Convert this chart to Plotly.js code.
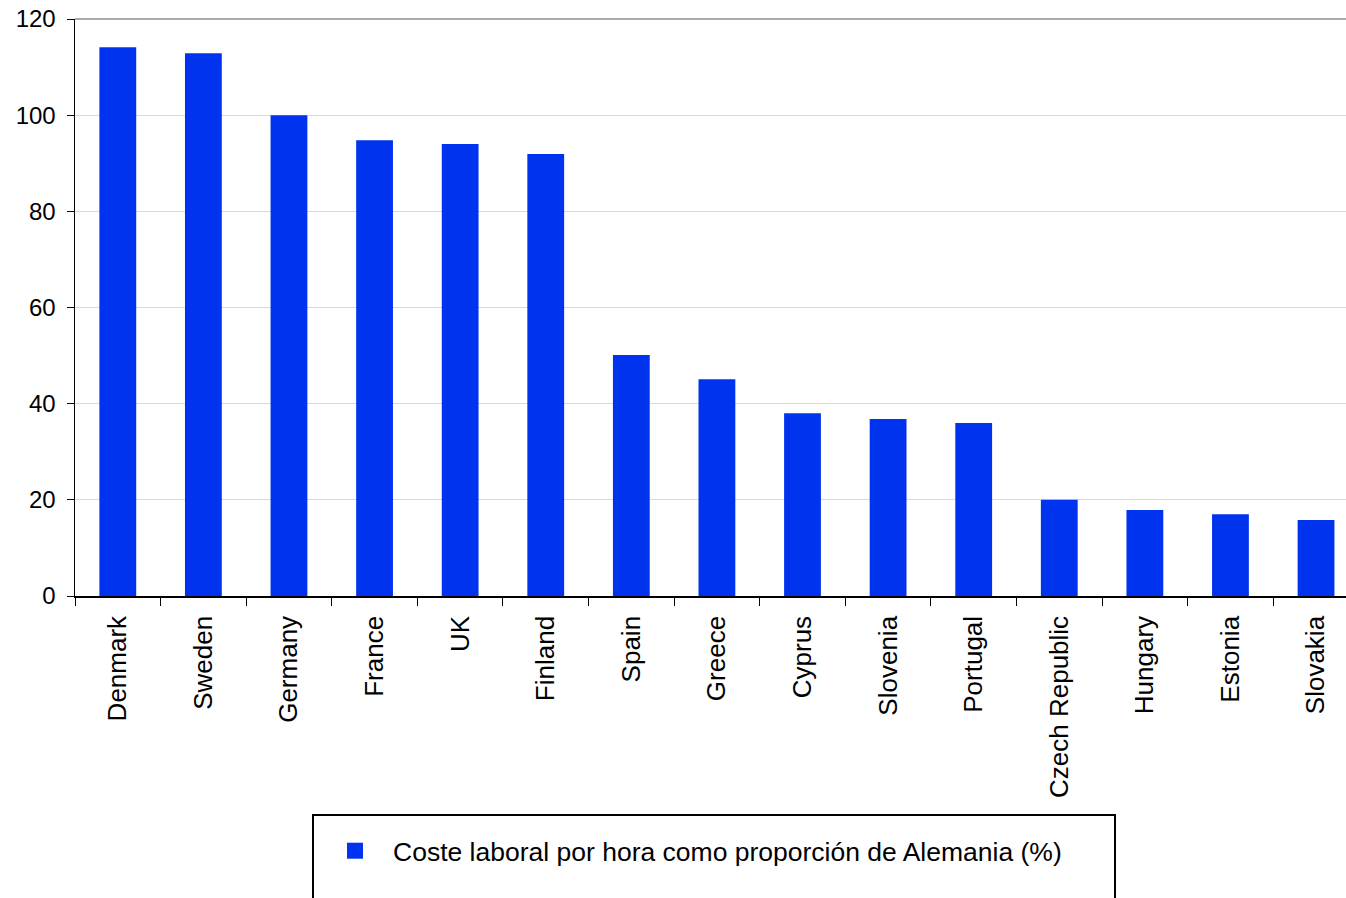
<!DOCTYPE html>
<html>
<head>
<meta charset="utf-8">
<script src="https://cdn.plot.ly/plotly-3.0.1.min.js"></script>
<style>html,body{margin:0;padding:0;background:#fff;}#chart{width:1346px;height:898px;}</style>
</head>
<body>
<div id="chart"></div>
<script>
const countries = ["Denmark","Sweden","Germany","France","UK","Finland","Spain","Greece","Cyprus","Slovenia","Portugal","Czech Republic","Hungary","Estonia","Slovakia"];
const laborCost = [114.1, 112.9, 100, 94.8, 94, 91.9, 50.1, 45.1, 38, 36.8, 36, 20, 17.9, 17, 15.8];
const seriesName = "Coste laboral por hora como proporción de Alemania (%)";
const yTicks = [0, 20, 40, 60, 80, 100, 120];

const barColor = "rgb(0,51,238)";
const font = "Arial, 'Liberation Sans', sans-serif";

const traces = [
  {
    type: "bar",
    x: countries,
    y: laborCost,
    width: 0.43,
    marker: {color: barColor},
    name: seriesName,
    showlegend: false,
    hoverinfo: "x+y"
  },
  {
    type: "scatter",
    mode: "markers",
    x: [null],
    y: [null],
    name: seriesName,
    marker: {symbol: "square", size: 22, color: barColor},
    showlegend: true
  }
];

const layout = {
  width: 1346,
  height: 898,
  margin: {l: 75, r: 0, t: 19, b: 302, autoexpand: false},
  paper_bgcolor: "#fff",
  plot_bgcolor: "#fff",
  font: {family: font, color: "#000"},
  xaxis: {
    type: "category",
    range: [-0.5, 14.35],
    tickmode: "array",
    tickvals: countries,
    ticktext: countries,
    automargin: false,
    tickangle: -90,
    tickfont: {size: 26, family: font},
    showline: true,
    linecolor: "#000",
    linewidth: 1.5,
    ticks: "outside",
    tickson: "boundaries",
    ticklen: 8,
    tickcolor: "#000",
    tickwidth: 1,
    showgrid: false,
    ticklabelstandoff: 8,
    fixedrange: true
  },
  yaxis: {
    range: [0, 120],
    automargin: false,
    tickvals: yTicks,
    ticktext: yTicks.map(String),
    tickfont: {size: 24, family: font},
    showline: true,
    linecolor: "#000",
    linewidth: 1.5,
    ticks: "outside",
    ticklen: 7,
    tickcolor: "#000",
    showgrid: true,
    gridcolor: "#d9d9d9",
    gridwidth: 1,
    zeroline: false,
    ticklabelstandoff: 6,
    fixedrange: true
  },
  showlegend: true,
  legend: {
    xref: "container",
    yref: "container",
    x: 317 / 1346,
    y: 1 - 827 / 898,
    xanchor: "left",
    yanchor: "top",
    itemwidth: 66,
    bgcolor: "rgba(0,0,0,0)",
    borderwidth: 0,
    font: {size: 26.5, family: font}
  },
  shapes: [
    {type: "line", xref: "paper", yref: "paper", x0: 0, x1: 1, y0: 1, y1: 1, line: {color: "#aaaaaa", width: 2}},
    {type: "rect", xref: "paper", yref: "paper",
      x0: (313 - 75) / 1271, x1: (1115 - 75) / 1271,
      y0: (596 - 815) / 577, y1: (596 - 910) / 577,
      line: {color: "#000", width: 2}, fillcolor: "rgba(0,0,0,0)"}
  ]
};

Plotly.newPlot("chart", traces, layout, {displayModeBar: false, staticPlot: true});
</script>
</body>
</html>
